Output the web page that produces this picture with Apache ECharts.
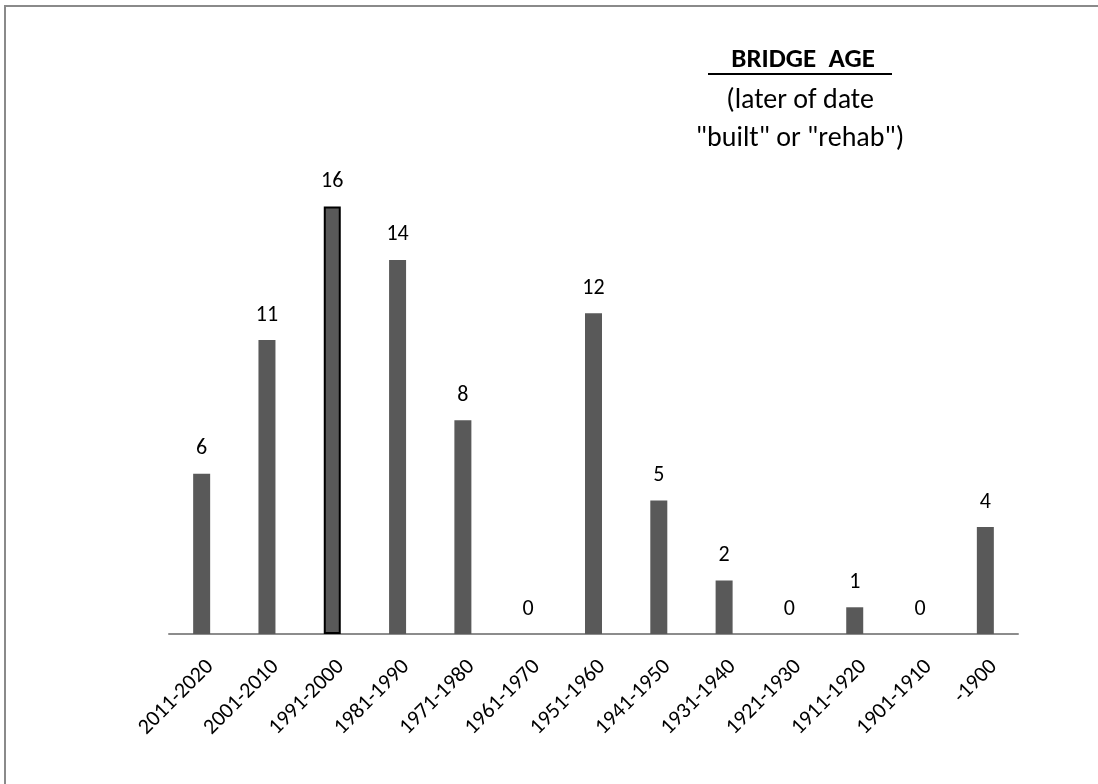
<!DOCTYPE html>
<html>
<head>
<meta charset="utf-8">
<script src="https://cdn.jsdelivr.net/npm/echarts@6/dist/echarts.min.js"></script>
<style>
  html, body { margin: 0; padding: 0; background: #fff; }
  #main { width: 1098px; height: 784px; }
</style>
</head>
<body>
<div id="main"></div>
<script>
// bridge counts by decade of build / rehab
var categories = ['2011-2020', '2001-2010', '1991-2000', '1981-1990', '1971-1980', '1961-1970',
  '1951-1960', '1941-1950', '1931-1940', '1921-1930', '1911-1920', '1901-1910', '-1900'];
var bridgeCounts = [6, 11, 16, 14, 8, 0, 12, 5, 2, 0, 1, 0, 4];
var outlinedIndex = 2; // the 1991-2000 bar has a black outline

var titleText = ' BRIDGE  AGE';
var subtitleLines = ['(later of date', '"built" or "rehab")'];

var font = 'Carlito, Calibri, Lato, sans-serif';

var barData = bridgeCounts.map(function (v, i) {
  if (i === outlinedIndex) {
    return { value: v, itemStyle: { borderColor: '#000', borderWidth: 2 } };
  }
  return v;
});

var myChart = echarts.init(document.getElementById('main'));

myChart.setOption({
  animation: false,
  backgroundColor: '#fff',
  grid: {
    left: 169,
    right: 80,
    top: 153,
    bottom: 150
  },
  xAxis: {
    type: 'category',
    data: categories,
    axisLine: { lineStyle: { color: '#8c8c8c', width: 2 } },
    axisTick: { show: false },
    axisLabel: {
      rotate: 45,
      margin: 38,
      padding: [0, -12, 0, 0],
      fontFamily: font,
      fontSize: 22,
      color: '#000',
      interval: 0
    }
  },
  yAxis: {
    type: 'value',
    min: 0,
    max: 18,
    show: false,
    splitLine: { show: false }
  },
  series: [
    {
      type: 'bar',
      data: barData,
      barWidth: 17,
      itemStyle: { color: '#595959' },
      label: {
        show: true,
        position: 'top',
        distance: 14,
        fontFamily: font,
        fontSize: 22,
        color: '#000'
      }
    }
  ],
  graphic: [
    {
      type: 'polyline',
      shape: { points: [[1098, 6], [5, 6], [5, 784]] },
      style: { stroke: '#8a8a8a', lineWidth: 2, fill: null },
      silent: true
    },
    {
      type: 'text',
      x: 800,
      y: 60,
      style: {
        text: titleText,
        font: 'bold 27px ' + font,
        fill: '#000',
        align: 'center',
        verticalAlign: 'middle'
      }
    },
    {
      type: 'line',
      shape: { x1: 708, y1: 74, x2: 892, y2: 74 },
      style: { stroke: '#000', lineWidth: 2 }
    },
    {
      type: 'text',
      x: 800,
      y: 82,
      style: {
        text: subtitleLines.join('\n'),
        font: '28px ' + font,
        lineHeight: 38,
        fill: '#000',
        align: 'center'
      }
    }
  ]
});

window.addEventListener('resize', function () { myChart.resize(); });
</script>
</body>
</html>
